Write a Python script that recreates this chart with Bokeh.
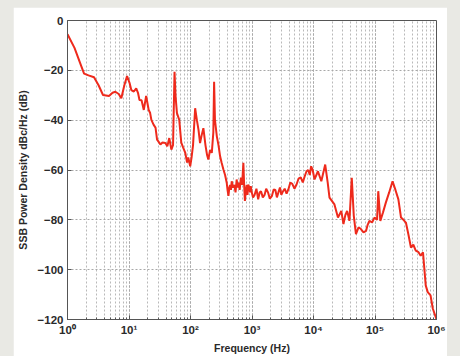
from bokeh.plotting import figure
from bokeh.models import CustomJSTickFormatter, FixedTicker, Range1d, Spacer
from bokeh.layouts import row, column
from bokeh.embed import file_html
from bokeh.resources import INLINE

freq_hz = [1, 1.3, 1.6, 1.86, 2.2, 2.7, 3.2, 3.78, 4.73, 5.4,
           6.0, 6.8, 7.5, 8.4, 9.3, 10.2, 10.9, 12, 13.1, 14.0,
           14.8, 16, 17.4, 19, 20.9, 22, 23.1, 25.2, 27, 28.6,
           30, 32.4, 35, 39, 42, 45.2, 48.8, 52, 55, 57,
           60.2, 65.6, 70.8, 76, 82, 88, 92, 98.9, 104, 110,
           119, 127, 135, 143, 152, 162, 175, 186, 195, 208,
           222, 235, 242, 250, 268, 285, 303, 320, 343, 365,
           388, 400, 414, 428, 440, 455, 468, 490, 515, 540,
           563, 585, 605, 630, 660, 690, 724, 745, 767, 795,
           820, 845, 870, 900, 930, 955, 980, 1040, 1100, 1180,
           1260, 1330, 1400, 1500, 1600, 1700, 1830, 1950, 2100, 2250,
           2400, 2540, 2680, 2850, 3000, 3200, 3400, 3650, 3900, 4200,
           4500, 4900, 5300, 5700, 6200, 6700, 7200, 7700, 8200, 8700,
           9150, 9700, 10400, 11800, 13400, 15500, 17000, 18200, 21900, 25000,
           28300, 30700, 33000, 35200, 38400, 41900, 45200, 49000, 54000, 59000,
           65000, 71600, 76000, 81000, 90000, 98000, 108000, 113000, 122000, 135000,
           150000, 170000, 193000, 215000, 240000, 265000, 290000, 318000, 350000, 384000,
           420000, 460000, 510000, 553000, 603000, 668000, 720000, 800000, 870000, 1000000]

ssb_db = [-5.5, -11, -17, -21.3, -22, -22.8, -26, -29.9, -30.3, -29,
          -28.6, -29.5, -31.2, -26, -22.3, -25, -27.9, -28.5, -27.2, -29,
          -31.9, -32, -35.9, -30.3, -35.9, -37, -39.9, -41.9, -43, -47.8,
          -48.5, -49.8, -49, -49.2, -50.5, -47.2, -51.8, -50, -20.6, -30,
          -37.2, -39.9, -49.0, -51, -53, -57, -55, -58.5, -55, -50,
          -35.2, -40, -43.9, -49.2, -46, -43.2, -50, -54, -55.8, -52,
          -53.1, -45, -24.6, -40, -46.5, -50, -54.5, -57, -59.8, -62,
          -65.1, -68, -70.4, -67, -66, -68, -64.5, -67, -66, -69,
          -63.8, -67, -65.1, -68, -63, -66, -57.1, -66, -72.4, -68,
          -66, -70, -65.8, -67, -69, -66.5, -68.4, -71, -70, -67.5,
          -71.8, -69, -68.5, -71, -70, -67.5, -69.1, -71.5, -70.5, -67.8,
          -68, -71, -69.1, -67, -70, -68.5, -67.5, -69.5, -67.8, -65,
          -65.5, -67.5, -65.8, -63.5, -63, -65, -62.5, -60.5, -60, -62,
          -58.5, -60, -63.8, -60.5, -64.5, -57.8, -65, -71.1, -73.8, -79.1,
          -76.4, -81.7, -78, -76.4, -80.4, -63.1, -78.4, -85.7, -83, -83.7,
          -85, -84.4, -82, -80.4, -81, -79.1, -80, -68.5, -80.4, -77,
          -73.1, -69, -64.5, -68, -71.8, -79.1, -80, -81.1, -86, -91.1,
          -90, -92.4, -93, -94.4, -93.0, -106.3, -109, -110.3, -115.6, -120]

y_ticks = [-120, -100, -80, -60, -40, -20, 0]
x_title = "Frequency (Hz)"
y_title = "SSB Power Density dBc/Hz (dB)"

FONT = "Liberation Sans"
TXT = "#2a2a2a"
GRID = "#a8a8a8"

p = figure(width=434, height=349, x_axis_type="log",
           x_range=Range1d(1, 1e6), y_range=Range1d(-120, 0),
           output_backend="svg", toolbar_location=None,
           min_border_left=52, min_border_right=11,
           min_border_top=13, min_border_bottom=35,
           background_fill_color="white", border_fill_color="white",
           outline_line_color="#555555", outline_line_width=1)

p.line(freq_hz, ssb_db, line_color="#ee2a1c", line_width=2)

p.xaxis.ticker.num_minor_ticks = 10
p.xaxis.formatter = CustomJSTickFormatter(code="""
const sup = {'0':'\u2070','1':'\u00b9','2':'\u00b2','3':'\u00b3','4':'\u2074','5':'\u2075','6':'\u2076','-':'\u207b'};
const e = Math.round(Math.log10(tick)).toString();
return '10' + e.split('').map(c => sup[c]).join('');
""")
p.yaxis.ticker = FixedTicker(ticks=y_ticks)

for ax in (p.xaxis[0], p.yaxis[0]):
    ax.axis_line_color = "#555555"
    ax.major_tick_line_color = "#555555"
    ax.minor_tick_line_color = "#555555"
    ax.major_tick_in = 4
    ax.major_tick_out = 0
    ax.minor_tick_in = 2
    ax.minor_tick_out = 0
    ax.major_label_text_font = FONT
    ax.major_label_text_font_size = "11.5px"
    ax.major_label_text_font_style = "bold"
    ax.major_label_text_color = TXT
    ax.axis_label_text_font = FONT
    ax.axis_label_text_font_size = "10.5px"
    ax.axis_label_text_font_style = "bold"
    ax.axis_label_text_color = TXT

p.yaxis.minor_tick_line_color = None
p.xaxis.axis_label = x_title
p.yaxis.axis_label = y_title
p.xaxis.major_label_standoff = 4
p.xaxis.axis_label_standoff = 3
p.yaxis.major_label_standoff = 4
p.yaxis.axis_label_standoff = 6

p.xgrid.grid_line_color = GRID
p.xgrid.grid_line_dash = "2 2"
p.xgrid.minor_grid_line_color = GRID
p.xgrid.minor_grid_line_dash = "2 2"
p.xgrid.grid_line_alpha = 0.9
p.xgrid.minor_grid_line_alpha = 0.8
p.ygrid.grid_line_color = GRID
p.ygrid.grid_line_dash = "2 2"
p.ygrid.ticker = FixedTicker(ticks=y_ticks)

layout = column(Spacer(width=447, height=7),
                row(Spacer(width=13, height=349), p),
                spacing=0)

html = file_html(layout, INLINE)
css = "<style>html,body{margin:0;padding:0;background:#e9e9e4;}</style>"
html = html.replace("</head>", css + "</head>", 1)
open("out.html", "w").write(html)
